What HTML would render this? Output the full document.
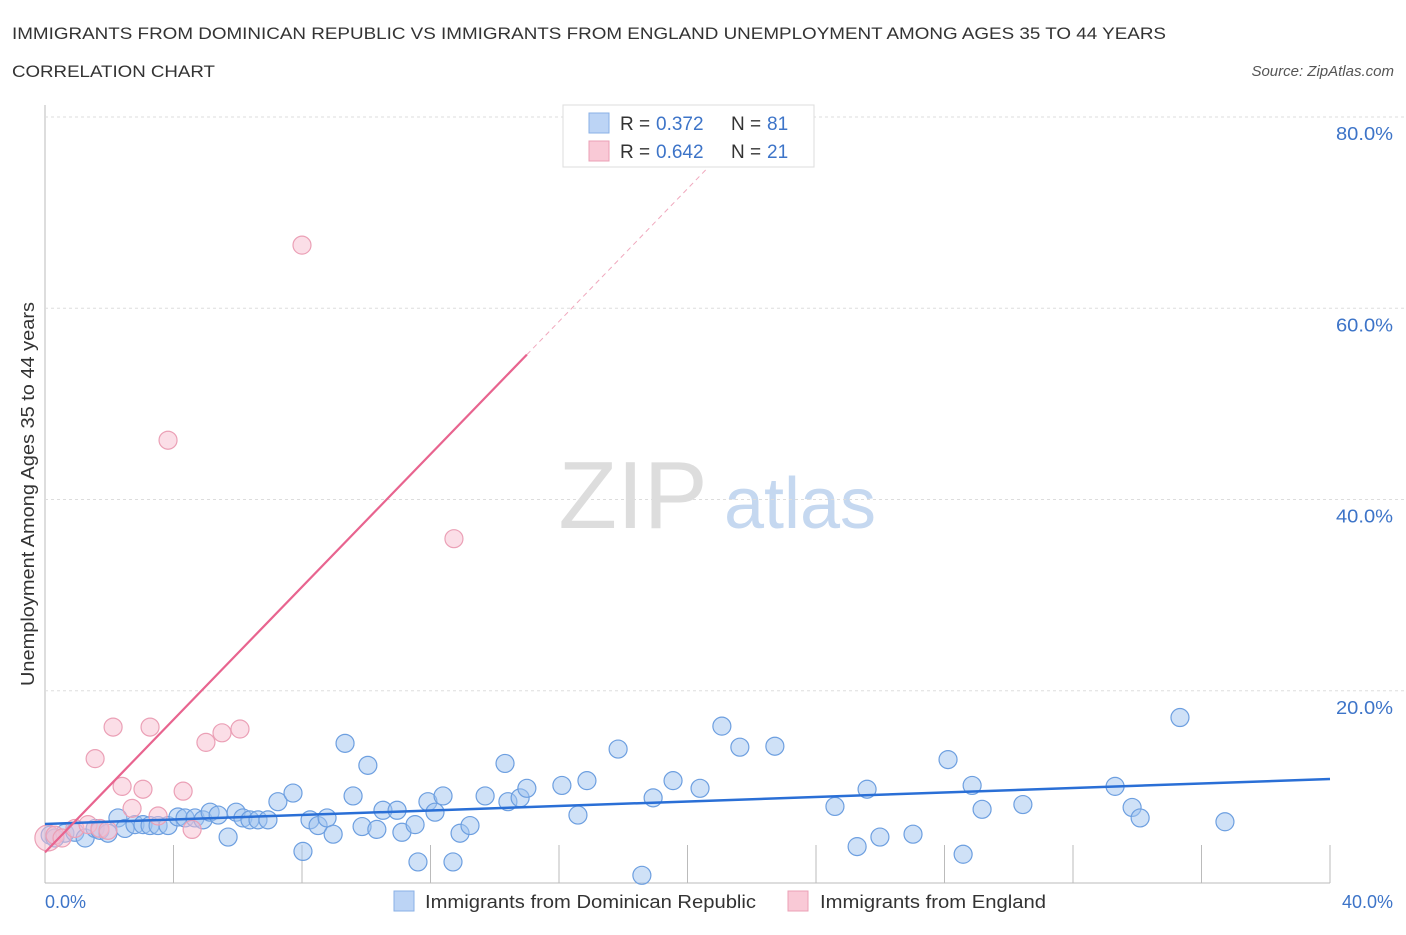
<!DOCTYPE html>
<html><head><meta charset="utf-8"><style>
body{margin:0;background:#fff;font-family:"Liberation Sans",sans-serif;}
svg text{font-family:"Liberation Sans",sans-serif;}
</style></head><body>
<svg width="1406" height="930" id="chart">
<text x="12" y="39" font-size="17" fill="#333" textLength="1154" lengthAdjust="spacingAndGlyphs">IMMIGRANTS FROM DOMINICAN REPUBLIC VS IMMIGRANTS FROM ENGLAND UNEMPLOYMENT AMONG AGES 35 TO 44 YEARS</text>
<text x="12" y="77" font-size="17" fill="#333" textLength="203" lengthAdjust="spacingAndGlyphs">CORRELATION CHART</text>
<text x="1394" y="76" font-size="15" fill="#555" text-anchor="end" font-style="italic">Source: ZipAtlas.com</text>
<text x="633" y="528" font-size="96" fill="#ddd" text-anchor="middle" font-family="Liberation Serif">ZIP</text>
<text x="800" y="528" font-size="72" fill="#c5d8f0" text-anchor="middle">atlas</text>
<text transform="translate(34,494) rotate(-90)" font-size="18" fill="#333" text-anchor="middle" textLength="384" lengthAdjust="spacingAndGlyphs">Unemployment Among Ages 35 to 44 years</text>
<g id="grid"></g><g id="marks"></g>
<g>
<rect x="563" y="105" width="251" height="62" fill="#fff" stroke="#ddd"/>
<rect x="589" y="113" width="20" height="20" fill="#bcd4f5" stroke="#8ab0e6"/>
<text x="620" y="130" font-size="19" fill="#333">R =</text>
<text x="656" y="130" font-size="19" fill="#3d74c8">0.372</text>
<text x="731" y="130" font-size="19" fill="#333">N =</text>
<text x="767" y="130" font-size="19" fill="#3d74c8">81</text>
<rect x="589" y="141" width="20" height="20" fill="#f9c9d6" stroke="#eba0b6"/>
<text x="620" y="158" font-size="19" fill="#333">R =</text>
<text x="656" y="158" font-size="19" fill="#3d74c8">0.642</text>
<text x="731" y="158" font-size="19" fill="#333">N =</text>
<text x="767" y="158" font-size="19" fill="#3d74c8">21</text>
</g>
<rect x="394" y="891" width="20" height="20" fill="#bcd4f5" stroke="#8ab0e6"/>
<text x="425" y="908" font-size="18" fill="#333" textLength="331" lengthAdjust="spacingAndGlyphs">Immigrants from Dominican Republic</text>
<rect x="788" y="891" width="20" height="20" fill="#f9c9d6" stroke="#eba0b6"/>
<text x="820" y="908" font-size="18" fill="#333" textLength="226" lengthAdjust="spacingAndGlyphs">Immigrants from England</text>
</svg>
<script>
const yTicks=[20,40,60,80];
const xTickLabels=["0.0%","40.0%"];
const blueX=[0.16,0.31,0.62,0.93,1.25,1.56,1.71,1.96,2.27,2.49,2.80,3.05,3.27,3.52,3.83,4.14,4.36,4.67,4.92,5.14,5.39,5.70,5.95,6.16,6.38,6.63,6.94,7.25,7.72,8.03,8.25,8.50,8.78,8.97,9.34,9.59,9.87,10.05,10.33,10.52,10.96,11.11,11.52,11.61,11.92,12.14,12.39,12.70,12.92,13.23,13.70,14.32,14.41,14.79,15.00,16.09,16.59,16.87,17.84,18.58,18.93,19.55,20.39,21.07,21.63,22.72,24.59,25.28,25.59,25.99,27.02,28.11,28.58,28.86,29.17,30.44,33.31,33.84,34.09,35.33,36.73];
const blueY=[4.9,4.6,5.1,5.2,4.6,5.6,5.4,5.1,6.7,5.6,6.0,6.0,5.9,5.9,5.9,6.8,6.7,6.7,6.5,7.3,7.0,4.7,7.3,6.7,6.5,6.5,6.5,8.4,9.3,3.2,6.5,5.9,6.7,5.0,14.5,9.0,5.8,12.2,5.5,7.5,7.5,5.2,6.0,2.1,8.4,7.3,9.0,2.1,5.1,5.9,9.0,12.4,8.4,8.8,9.8,10.1,7.0,10.6,13.9,0.7,8.8,10.6,9.8,16.3,14.1,14.2,7.9,3.7,9.7,4.7,5.0,12.8,2.9,10.1,7.6,8.1,10.0,7.8,6.7,17.2,6.3];
const pinkX=[0.09,0.31,0.53,0.93,1.34,1.71,1.96,1.56,2.12,2.40,2.71,3.05,3.27,3.52,3.83,4.30,4.58,5.01,5.51,6.07,8.00,12.73];
const pinkY=[4.6,4.9,4.6,5.6,6.0,5.6,5.4,12.9,16.2,10.0,7.7,9.7,16.2,6.9,46.2,9.5,5.5,14.6,15.6,16.0,66.6,35.9];
const blueTrend=[6.07,10.77];
const pinkTrend=[3.1,3.47];
const NS="http://www.w3.org/2000/svg";
const sx=v=>45+v*32.125, sy=v=>882-v*9.5625;
const grid=document.getElementById('grid'), marks=document.getElementById('marks');
function mk(tag,at,parent){const e=document.createElementNS(NS,tag);for(const k in at)e.setAttribute(k,at[k]);parent.appendChild(e);return e;}
let ax=mk('line',{x1:45,y1:105,x2:45,y2:883,stroke:'#bbb'},grid);


let bx=mk('line',{x1:45,y1:883,x2:1330,y2:883,stroke:'#bbb'},grid);


for(let i=1;i<=10;i++){let t=mk('line',{x1:45+i*128.5,y1:845,x2:45+i*128.5,y2:883,stroke:'#bbb'},grid);

}
yTicks.forEach(v=>{let g=mk('line',{x1:45,y1:sy(v),x2:1406,y2:sy(v),stroke:'#ddd','stroke-dasharray':'3,3'},grid);


let t=mk('text',{x:1393,y:sy(v)+23,'font-size':18,fill:'#3d74c8','text-anchor':'end',textLength:57,lengthAdjust:'spacingAndGlyphs'},grid);t.textContent=v.toFixed(1)+'%';

});
let xl0=mk('text',{x:45,y:908,'font-size':18,fill:'#3d74c8'},grid);xl0.textContent=xTickLabels[0];


let xl1=mk('text',{x:1393,y:908,'font-size':18,fill:'#3d74c8','text-anchor':'end'},grid);xl1.textContent=xTickLabels[1];


blueX.forEach((x,i)=>{let c=mk('circle',{cx:sx(x),cy:sy(blueY[i]),r:9,fill:'rgba(160,196,240,0.5)',stroke:'#6d9fe0','stroke-width':1.2},marks);

});
pinkX.forEach((x,i)=>{let c=mk('circle',{cx:sx(x),cy:sy(pinkY[i]),r:i===0?13:9,fill:'rgba(248,190,208,0.5)',stroke:'#eba0b6','stroke-width':1.2},marks);

});
let bl=mk('line',{x1:sx(0),y1:sy(blueTrend[0]),x2:sx(40),y2:sy(blueTrend[1]),stroke:'#2a6fd6','stroke-width':2.5},marks);


const pv=x=>pinkTrend[0]+pinkTrend[1]*x;
let pl=mk('line',{x1:sx(0),y1:sy(pv(0)),x2:sx(15),y2:sy(pv(15)),stroke:'#e8648f','stroke-width':2.2},marks);


let pd=mk('line',{x1:sx(15),y1:sy(pv(15)),x2:sx(21.5),y2:sy(pv(21.5)),stroke:'#f0a8bd','stroke-width':1,'stroke-dasharray':'5,4'},marks);


</script>
</body></html>
